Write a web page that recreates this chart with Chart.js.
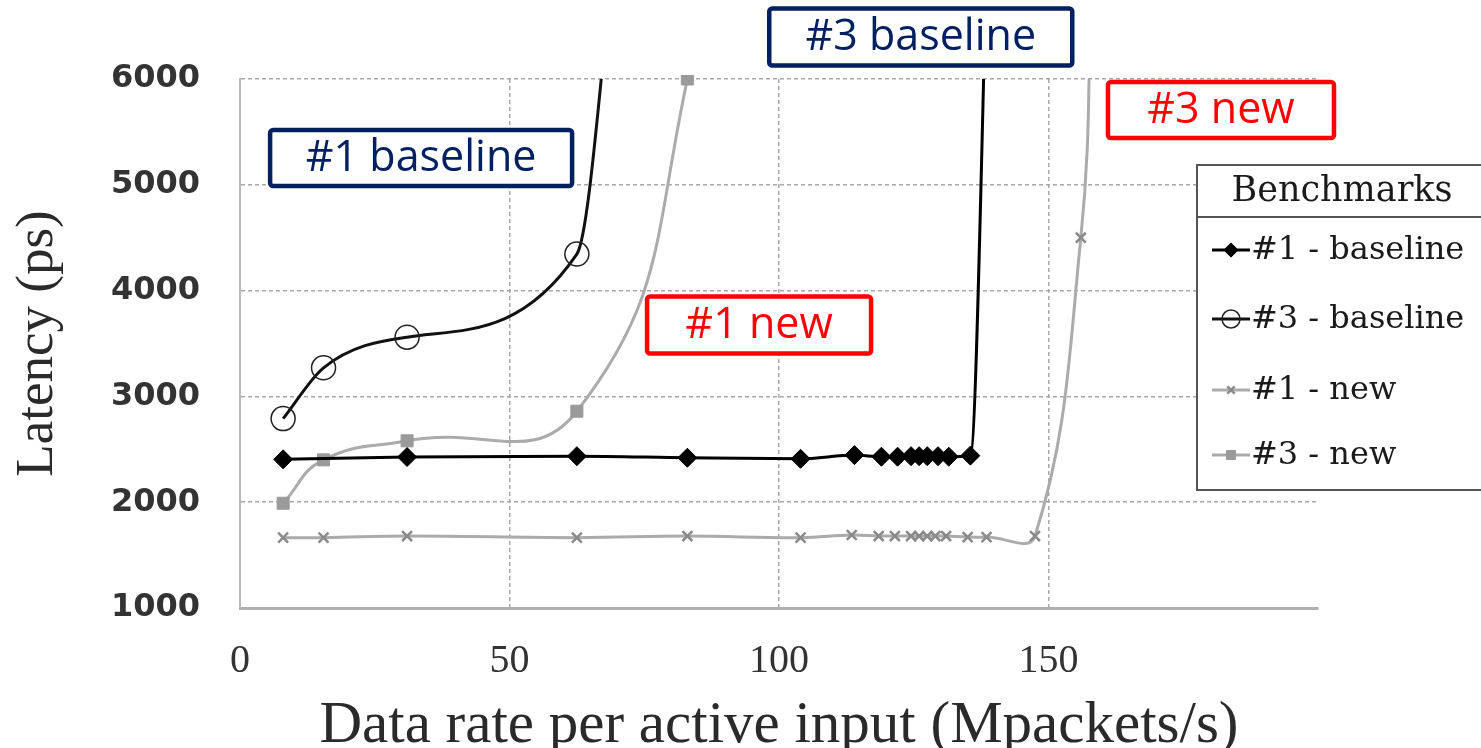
<!DOCTYPE html>
<html><head><meta charset="utf-8">
<script src="https://cdn.jsdelivr.net/npm/chart.js@4.4.1/dist/chart.umd.min.js"></script>
<style>html,body{margin:0;padding:0;background:#fff;overflow:hidden;}</style>
</head><body>
<canvas id="c" width="1481" height="748"></canvas>
<script>
// ---- data ----
const seriesNames = ['#1 - baseline', '#3 - baseline', '#1 - new', '#3 - new'];
const base1X = [8, 31, 62.5, 83, 104, 114, 119, 122, 124.5, 126, 127.5, 129.5, 131.5, 135.5, 139];
const base1Y = [2405, 2427, 2435, 2420, 2410, 2445, 2430, 2430, 2435, 2435, 2435, 2435, 2430, 2440, 8000];
const base3X = [8, 15.5, 31, 62.5, 69.5];
const base3Y = [2790, 3270, 3560, 4345, 7200];
const new1X = [8, 15.5, 31, 62.5, 83, 104, 113.5, 118.5, 121.5, 124.5, 126, 127.5, 129, 131, 135, 138.5, 147.5, 156, 158];
const new1Y = [1665, 1665, 1680, 1665, 1680, 1665, 1690, 1680, 1680, 1680, 1680, 1680, 1680, 1680, 1670, 1670, 1680, 4500, 7000];
const new3X = [8, 15.5, 31, 62.5, 83, 88];
const new3Y = [1990, 2400, 2580, 2860, 6000, 9000];
const xTickValues = [0, 50, 100, 150];
const yTickValues = [1000, 2000, 3000, 4000, 5000, 6000];
const legendTitle = 'Benchmarks';
const xTitle = 'Data rate per active input (Mpackets/s)';
const yTitle = 'Latency (ps)';

const pts = (xs, ys) => xs.map((x, i) => ({x: x, y: ys[i]}));
const topClip = {left: false, right: false, bottom: false, top: 0};

const callouts = [
  {text: '#3 baseline', x: 126.3, y: 6397, w: 303, h: 57, color: '#002060'},
  {text: '#1 baseline', x: 33.6, y: 5253, w: 302, h: 56, color: '#002060'},
  {text: '#1 new', x: 96.3, y: 3675, w: 224, h: 57, color: '#ff0000'},
  {text: '#3 new', x: 182, y: 5707, w: 226, h: 56, color: '#ff0000'}
];

const calloutPlugin = {
  id: 'callouts',
  afterDraw(chart) {
    const ctx = chart.ctx, xs = chart.scales.x, ys = chart.scales.y;
    ctx.save();
    callouts.forEach(c => {
      const cx = xs.getPixelForValue(c.x), cy = ys.getPixelForValue(c.y);
      const l = cx - c.w / 2, t = cy - c.h / 2;
      ctx.beginPath();
      if (ctx.roundRect) ctx.roundRect(l, t, c.w, c.h, 3); else ctx.rect(l, t, c.w, c.h);
      ctx.fillStyle = '#fff'; ctx.fill();
      ctx.lineWidth = 4.5; ctx.strokeStyle = c.color; ctx.stroke();
      ctx.fillStyle = c.color;
      ctx.font = '43px "Open Sans", "Noto Sans", sans-serif';
      ctx.textAlign = 'center'; ctx.textBaseline = 'middle';
      ctx.fillText(c.text, cx, cy + 1);
    });
    ctx.restore();
  }
};

const legendPlugin = {
  id: 'boxLegend',
  afterDraw(chart) {
    const ctx = chart.ctx;
    const L = 1197, T = 165, W = 320, H = 325, sep = 217;
    const rows = [250, 319, 390, 455];
    ctx.save();
    ctx.fillStyle = '#fff';
    ctx.fillRect(L, T, W, H);
    ctx.strokeStyle = '#555'; ctx.lineWidth = 2;
    ctx.strokeRect(L, T, W, H);
    ctx.beginPath(); ctx.moveTo(L, sep); ctx.lineTo(L + W, sep); ctx.stroke();
    ctx.fillStyle = '#1a1a1a';
    ctx.font = '35px "DejaVu Serif", "Liberation Serif", serif';
    ctx.textBaseline = 'middle'; ctx.textAlign = 'center';
    ctx.fillText(legendTitle, 1342, 192);
    ctx.textAlign = 'left';
    ctx.font = '32px "DejaVu Serif", "Liberation Serif", serif';
    chart.data.datasets.forEach((ds, i) => {
      const y = rows[i];
      ctx.strokeStyle = ds.borderColor; ctx.lineWidth = 3;
      ctx.beginPath(); ctx.moveTo(1212, y); ctx.lineTo(1250, y); ctx.stroke();
      ctx.fillStyle = ds.pointBackgroundColor;
      ctx.strokeStyle = ds.pointBorderColor;
      ctx.lineWidth = ds.pointBorderWidth;
      Chart.helpers.drawPoint(ctx, {pointStyle: ds.pointStyle, rotation: 0, radius: ds.pointRadius * 0.75, borderWidth: ds.pointBorderWidth}, 1231, y);
      ctx.fillStyle = '#1a1a1a';
      ctx.fillText(ds.label, 1251, y + 1);
    });
    ctx.restore();
  }
};

new Chart(document.getElementById('c'), {
  type: 'line',
  data: {
    datasets: [
      {label: seriesNames[0], data: pts(base1X, base1Y), borderColor: '#000', borderWidth: 3,
       pointStyle: 'rectRot', pointRadius: 9.5, pointBackgroundColor: '#000', pointBorderColor: '#000', pointBorderWidth: 1,
       cubicInterpolationMode: 'monotone', clip: topClip},
      {label: seriesNames[1], data: pts(base3X, base3Y), borderColor: '#111', borderWidth: 3,
       pointStyle: 'circle', pointRadius: 12, pointBackgroundColor: 'rgba(0,0,0,0)', pointBorderColor: '#222', pointBorderWidth: 1.5,
       cubicInterpolationMode: 'monotone', clip: topClip},
      {label: seriesNames[2], data: pts(new1X, new1Y), borderColor: '#ababab', borderWidth: 3,
       pointStyle: 'crossRot', pointRadius: 7, pointBackgroundColor: '#888', pointBorderColor: '#8a8a8a', pointBorderWidth: 2.5,
       tension: 0.4, clip: topClip},
      {label: seriesNames[3], data: pts(new3X, new3Y), borderColor: '#ababab', borderWidth: 3,
       pointStyle: 'rect', pointRadius: 8.5, pointBackgroundColor: '#9a9a9a', pointBorderColor: '#9a9a9a', pointBorderWidth: 1,
       tension: 0.47, clip: {left: false, right: false, bottom: false, top: 4}}
    ]
  },
  options: {
    responsive: false, animation: false, devicePixelRatio: 1,
    layout: {padding: {top: 79, right: 163, left: 0, bottom: 0}},
    plugins: {legend: {display: false}, tooltip: {enabled: false}},
    scales: {
      x: {
        type: 'linear', min: 0, max: 200,
        afterBuildTicks: s => { s.ticks = [...xTickValues, 200].map(v => ({value: v})); },
        afterFit: s => { s.height = 140; },
        ticks: {
          callback: v => (xTickValues.includes(v) ? String(v) : null),
          color: '#333', padding: 29,
          font: {family: '"Liberation Serif", serif', size: 40}
        },
        grid: {drawTicks: false, color: c => (c.tick && c.tick.value === 0 ? 'rgba(0,0,0,0)' : '#a8a8a8'), lineWidth: 1.5},
        border: {display: true, color: '#b0b0b0', width: 3, dash: [4, 3]},
        title: {display: true, text: xTitle, color: '#2a2a2a', padding: 0,
          font: {family: '"Liberation Serif", serif', size: 59, lineHeight: 0.72}}
      },
      y: {
        type: 'linear', min: 1000, max: 6000,
        afterBuildTicks: s => { s.ticks = yTickValues.map(v => ({value: v})); },
        afterFit: s => { s.width = 240; },
        ticks: {
          callback: v => String(v),
          color: '#333', padding: 40,
          font: {family: '"DejaVu Sans", sans-serif', size: 32, weight: 'bold'}
        },
        grid: {drawTicks: false, color: c => (c.tick && c.tick.value === 1000 ? 'rgba(0,0,0,0)' : '#a8a8a8'), lineWidth: 1.5},
        border: {display: true, color: '#b8b8b8', width: 2, dash: [4, 3]},
        title: {display: true, text: yTitle, color: '#2a2a2a', padding: {top: 12, bottom: 0},
          font: {family: '"Liberation Serif", serif', size: 53, lineHeight: 1}}
      }
    }
  },
  plugins: [calloutPlugin, legendPlugin]
});
</script>
</body></html>
